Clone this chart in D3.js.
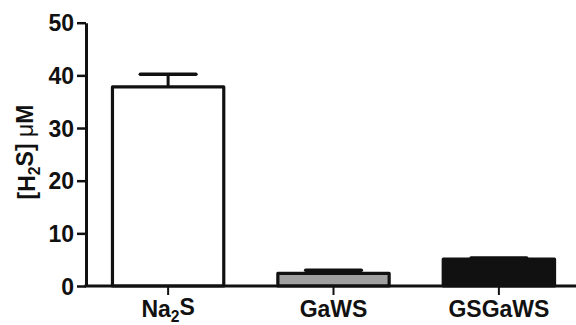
<!DOCTYPE html>
<html>
<head>
<meta charset="utf-8">
<script src="https://cdn.jsdelivr.net/npm/d3@7"></script>
<style>
  body { margin: 0; background: #fff; }
  svg { display: block; font-family: "Liberation Sans", Arial, sans-serif; font-weight: bold; }
</style>
</head>
<body>
<div id="chart"></div>
<script>
// values
const categories = ["Na2S", "GaWS", "GSGaWS"];
const means = [37.8, 2.4, 5.1];
const errors = [2.4, 0.6, 0.2];
const fills = ["#ffffff", "#a0a0a0", "#111111"];
const yTicks = [0, 10, 20, 30, 40, 50];

const width = 576, height = 325;

const svg = d3.select("#chart").append("svg")
  .attr("width", width)
  .attr("height", height);

const x = d3.scaleBand()
  .domain(categories)
  .range([86, 581])
  .paddingInner(0.327)
  .paddingOuter(0.16);

const y = d3.scaleLinear()
  .domain([0, 50])
  .range([286, 22.7]);

// put the digit in chemical names as a subscript
function chem(sel, label) {
  const parts = label.split(/(\d)/).filter(s => s.length);
  parts.forEach(p => {
    if (/\d/.test(p)) {
      sel.append("tspan").attr("font-size", "0.68em").attr("dy", "0.3em").text(p);
    } else {
      const t = sel.append("tspan").text(p);
      if (sel.selectAll("tspan").size() > 1) t.attr("dy", "-0.3em");
    }
  });
}

const data = categories.map((c, i) => ({ c, m: means[i], e: errors[i], f: fills[i] }));

// error bars (upper only), drawn first so the bar outline covers the stem
const eb = svg.append("g").attr("stroke", "#111").attr("fill", "none");
eb.selectAll(".stem").data(data).join("line")
  .attr("x1", d => x(d.c) + x.bandwidth() / 2)
  .attr("x2", d => x(d.c) + x.bandwidth() / 2)
  .attr("y1", d => y(d.m))
  .attr("y2", d => y(d.m + d.e))
  .attr("stroke-width", 3);
eb.selectAll(".cap").data(data).join("line")
  .attr("x1", d => x(d.c) + x.bandwidth() * 0.25)
  .attr("x2", d => x(d.c) + x.bandwidth() * 0.75)
  .attr("y1", d => y(d.m + d.e))
  .attr("y2", d => y(d.m + d.e))
  .attr("stroke-width", 3.5)
  .attr("stroke-linecap", "round");

// bars
svg.append("g").selectAll("rect").data(data).join("rect")
  .attr("x", d => x(d.c))
  .attr("y", d => y(d.m))
  .attr("width", x.bandwidth())
  .attr("height", d => y(0) - y(d.m))
  .attr("fill", d => d.f)
  .attr("stroke", "#111")
  .attr("stroke-width", 3.2)
  .attr("stroke-linejoin", "round");

// y axis
const yAxis = svg.append("g")
  .attr("transform", "translate(86,0)")
  .call(d3.axisLeft(y).tickValues(yTicks).tickSize(9).tickPadding(3).tickSizeOuter(0));
yAxis.select(".domain").attr("stroke", "#111").attr("stroke-width", 3);
yAxis.selectAll(".tick line").attr("stroke", "#111").attr("stroke-width", 2.5);
yAxis.selectAll(".tick text")
  .attr("fill", "#111")
  .attr("font-size", 23)
  .attr("font-weight", "bold")
  .attr("font-family", "'Liberation Sans', Arial, sans-serif")
  .attr("dy", "0.36em");

// x axis
const xAxis = svg.append("g")
  .attr("transform", "translate(0,286)")
  .call(d3.axisBottom(x).tickSize(9).tickSizeOuter(0).tickPadding(5).tickFormat(""));
xAxis.select(".domain").attr("stroke", "#111").attr("stroke-width", 3)
  .attr("d", "M84.5,0H576");
xAxis.selectAll(".tick line").attr("stroke", "#111").attr("stroke-width", 2);
xAxis.selectAll(".tick").each(function (d) {
  const t = d3.select(this).append("text")
    .attr("y", 31)
    .attr("text-anchor", "middle")
    .attr("fill", "#111")
    .attr("font-size", 23)
    .attr("font-weight", "bold")
    .attr("font-family", "'Liberation Sans', Arial, sans-serif");
  chem(t, d);
});

// y title
const title = svg.append("text")
  .attr("transform", "translate(35,152) rotate(-90)")
  .attr("text-anchor", "middle")
  .attr("fill", "#111")
  .attr("font-size", 23);
title.append("tspan").text("[H");
title.append("tspan").attr("font-size", "0.68em").attr("dy", "0.3em").text("2");
title.append("tspan").attr("dy", "-0.3em").text("S] ");
title.append("tspan").attr("font-weight", "normal").text("\u03bc");
title.append("tspan").text("M");
</script>
</body>
</html>
